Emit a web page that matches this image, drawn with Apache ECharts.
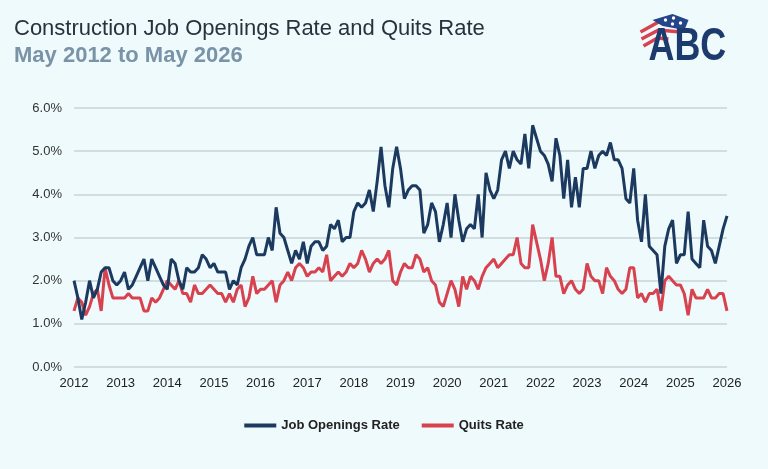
<!DOCTYPE html>
<html lang="en">
<head>
  <meta charset="UTF-8">
  <title>Construction Job Openings Rate and Quits Rate</title>
  <script src="https://cdn.jsdelivr.net/npm/echarts@6/dist/echarts.min.js"></script>
  <style>
    html, body { margin: 0; padding: 0; background: #eefafc; }
    #main { width: 768px; height: 469px; }
  </style>
</head>
<body>
<div id="main"></div>
<script>
  // first month of the series (May 2012), monthly to May 2026
  const startYear = 2012;
  const startMonth = 5;

  // job openings rate, %
  const jobOpenings = [
    2.0, 1.6, 1.1, 1.5, 2.0, 1.6, 1.8, 2.2, 2.3, 2.3, 2.0, 1.9,
    2.0, 2.2, 1.8, 1.9, 2.1, 2.3, 2.5, 2.0, 2.5, 2.3, 2.1, 1.9,
    1.8, 2.5, 2.4, 2.0, 1.8, 2.3, 2.2, 2.2, 2.3, 2.6, 2.5, 2.3,
    2.4, 2.2, 2.2, 2.2, 1.8, 2.0, 1.9, 2.3, 2.5, 2.8, 3.0, 2.6,
    2.6, 2.6, 3.0, 2.7, 3.7, 3.1, 3.0, 2.7, 2.4, 2.7, 2.5, 2.9,
    2.4, 2.8, 2.9, 2.9, 2.7, 2.8, 3.3, 3.2, 3.4, 2.9, 3.0, 3.0,
    3.6, 3.8, 3.7, 3.8, 4.1, 3.6, 4.3, 5.1, 4.2, 3.7, 4.6, 5.1,
    4.6, 3.9, 4.1, 4.2, 4.2, 4.1, 3.1, 3.3, 3.8, 3.6, 2.9, 3.3,
    3.8, 3.0, 4.0, 3.4, 2.9, 3.2, 3.3, 3.2, 4.0, 3.0, 4.5, 4.1,
    3.9, 4.1, 4.8, 5.0, 4.6, 5.0, 4.8, 4.7, 5.4, 4.6, 5.6, 5.3,
    5.0, 4.9, 4.7, 4.3, 5.3, 4.9, 3.9, 4.8, 3.7, 4.4, 3.7, 4.6,
    4.6, 5.0, 4.6, 4.9, 5.0, 4.9, 5.2, 4.8, 4.8, 4.6, 3.9, 3.8,
    4.6, 3.4, 2.9, 4.0, 2.8, 2.7, 2.6, 1.7, 2.8, 3.2, 3.4, 2.4,
    2.6, 2.6, 3.6, 2.5, 2.4, 2.3, 3.4, 2.8, 2.7, 2.4, 2.8, 3.2,
    3.5
  ];

  // quits rate, %
  const quits = [
    1.3, 1.6, 1.5, 1.2, 1.4, 1.7, 1.8, 1.3, 2.3, 1.9, 1.6, 1.6,
    1.6, 1.6, 1.7, 1.6, 1.6, 1.6, 1.3, 1.3, 1.6, 1.5, 1.6, 1.8,
    2.0, 1.9, 1.8, 2.0, 1.7, 1.7, 1.5, 1.9, 1.7, 1.7, 1.8, 1.9,
    1.8, 1.7, 1.7, 1.5, 1.7, 1.5, 1.8, 1.9, 1.4, 1.6, 2.1, 1.7,
    1.8, 1.8, 1.9, 2.0, 1.5, 1.9, 2.0, 2.2, 2.0, 2.3, 2.4, 2.3,
    2.1, 2.2, 2.2, 2.3, 2.2, 2.6, 2.0, 2.1, 2.2, 2.1, 2.2, 2.4,
    2.3, 2.4, 2.7, 2.5, 2.2, 2.4, 2.5, 2.4, 2.5, 2.7, 2.0, 1.9,
    2.2, 2.4, 2.3, 2.3, 2.6, 2.5, 2.2, 2.3, 2.0, 1.9, 1.5, 1.4,
    1.7, 2.0, 1.8, 1.4, 2.1, 1.8, 2.1, 2.0, 1.8, 2.1, 2.3, 2.4,
    2.5, 2.3, 2.4, 2.5, 2.6, 2.6, 3.0, 2.4, 2.3, 2.3, 3.3, 2.9,
    2.5, 2.0, 2.4, 3.0, 2.1, 2.1, 1.7, 1.9, 2.0, 1.8, 1.7, 1.8,
    2.4, 2.1, 2.0, 2.0, 1.7, 2.3, 2.1, 2.0, 1.8, 1.7, 1.8, 2.3,
    2.3, 1.6, 1.7, 1.5, 1.7, 1.7, 1.8, 1.3, 2.0, 2.1, 2.0, 1.9,
    1.9, 1.7, 1.2, 1.8, 1.6, 1.6, 1.6, 1.8, 1.6, 1.6, 1.7, 1.7,
    1.3
  ];

  const yTicks = [0, 1, 2, 3, 4, 5, 6];

  // month categories, label shows only the year
  const months = [];
  for (let i = 0; i < jobOpenings.length; i++) {
    const m = startMonth - 1 + i;
    const y = startYear + Math.floor(m / 12);
    months.push(y + '-' + String(m % 12 + 1).padStart(2, '0'));
  }

  const navy = '#1c3a5f';
  const red = '#d8424f';

  let myChart = echarts.init(document.getElementById('main'));
  let option = {
    backgroundColor: '#eefafc',
    title: {
      text: 'Construction Job Openings Rate and Quits Rate',
      subtext: 'May 2012 to May 2026',
      left: 9,
      top: 13,
      itemGap: 5,
      textStyle: {
        fontFamily: 'Liberation Sans',
        fontSize: 22,
        fontWeight: 'normal',
        color: '#27323d'
      },
      subtextStyle: {
        fontFamily: 'Liberation Sans',
        fontSize: 22,
        fontWeight: 'bold',
        color: '#7a93a6'
      }
    },
    legend: {
      bottom: 32,
      left: 'center',
      itemWidth: 32,
      itemHeight: 4,
      itemGap: 22,
      icon: 'rect',
      textStyle: {
        fontFamily: 'Liberation Sans',
        fontSize: 13,
        fontWeight: 'bold',
        color: '#222'
      },
      data: ['Job Openings Rate', 'Quits Rate']
    },
    grid: {
      left: 74,
      right: 41,
      top: 108,
      bottom: 102
    },
    xAxis: {
      type: 'category',
      boundaryGap: false,
      data: months,
      axisLine: { show: false },
      axisTick: { show: false },
      axisLabel: {
        interval: 11,
        margin: 10,
        fontFamily: 'Liberation Sans',
        fontSize: 13,
        color: '#222',
        formatter: (v) => v.slice(0, 4)
      }
    },
    yAxis: {
      type: 'value',
      min: yTicks[0],
      max: yTicks[yTicks.length - 1],
      interval: 1,
      axisLabel: {
        margin: 12,
        fontFamily: 'Liberation Sans',
        fontSize: 13,
        color: '#333',
        formatter: (v) => v.toFixed(1) + '%'
      },
      splitLine: { lineStyle: { color: '#c9d3d7', width: 1.5 } }
    },
    series: [
      {
        name: 'Job Openings Rate',
        type: 'line',
        data: jobOpenings,
        showSymbol: false,
        itemStyle: { color: navy },
        lineStyle: { color: navy, width: 3 },
        z: 3
      },
      {
        name: 'Quits Rate',
        type: 'line',
        data: quits,
        showSymbol: false,
        itemStyle: { color: red },
        lineStyle: { color: red, width: 3 },
        z: 2
      }
    ],
    graphic: [
      // ABC logo, top right
      {
        type: 'group',
        left: 638,
        top: 14,
        children: [
          { type: 'polyline', shape: { points: [[2, 18], [20, 8], [40, 10]] }, style: { stroke: '#d8424f', lineWidth: 3.5, fill: 'none' } },
          { type: 'polyline', shape: { points: [[3, 25], [20, 16], [42, 18]] }, style: { stroke: '#d8424f', lineWidth: 3.5, fill: 'none' } },
          { type: 'polyline', shape: { points: [[5, 32], [19, 24], [30, 25]] }, style: { stroke: '#d8424f', lineWidth: 3.5, fill: 'none' } },
          { type: 'polygon', shape: { points: [[14, 6], [34, 0], [50, 6], [46, 16], [24, 12]] }, style: { fill: '#25458a' } },
          { type: 'circle', shape: { cx: 27, cy: 6, r: 1.7 }, style: { fill: '#fff' } },
          { type: 'circle', shape: { cx: 35, cy: 4, r: 1.7 }, style: { fill: '#fff' } },
          { type: 'circle', shape: { cx: 34, cy: 10, r: 1.7 }, style: { fill: '#fff' } },
          { type: 'circle', shape: { cx: 42, cy: 9, r: 1.7 }, style: { fill: '#fff' } },
          {
            type: 'text',
            x: 10,
            y: 10,
            scaleX: 0.78,
            style: {
              text: 'ABC',
              fontFamily: 'Liberation Sans',
              fontSize: 46,
              fontWeight: 'bold',
              fill: '#1c3a6e'
            }
          }
        ]
      }
    ]
  };
  myChart.setOption(option);
</script>
</body>
</html>
